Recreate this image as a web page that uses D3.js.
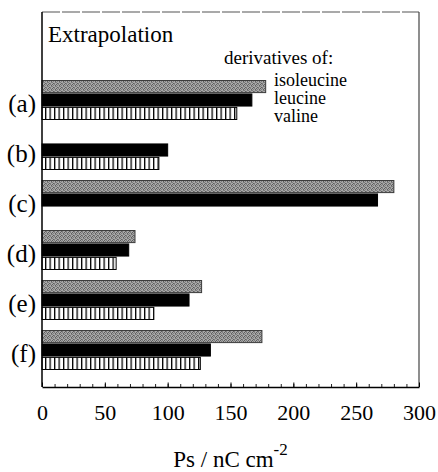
<!DOCTYPE html>
<html>
<head>
<meta charset="utf-8">
<script src="https://cdn.jsdelivr.net/npm/d3@7"></script>
<style>
    html, body { margin: 0; padding: 0; background: #fff; }
    #chart { width: 438px; height: 472px; }
    text { font-family: "Liberation Serif", "Times New Roman", serif; fill: #000; }
</style>
</head>
<body>
<div id="chart"></div>
<script>
// chart values
const categories = ['(a)', '(b)', '(c)', '(d)', '(e)', '(f)'];
const seriesNames = ['isoleucine', 'leucine', 'valine'];
const isoleucine = [178, null, 280, 74, 127, 175];
const leucine = [167, 100, 267, 69, 117, 134];
const valine = [155, 93, null, 59, 89, 126];
const majorTicks = [0, 50, 100, 150, 200, 250, 300];
const minorTicks = d3.range(0, 301, 10);

class GroupedBars {
    constructor(containerId) {
        this.containerId = containerId;
        this.width = 438;
        this.height = 472;
        this.plot = { left: 42, right: 419, top: 12, bottom: 387 };
    }

    initialize() {
        this.svg = d3.select(`#${this.containerId}`)
            .append('svg')
            .attr('width', this.width)
            .attr('height', this.height);

        this.x = d3.scaleLinear()
            .domain([0, 300])
            .range([this.plot.left, this.plot.right]);

        // one band per compound, 50px each
        this.y = d3.scaleBand()
            .domain(categories)
            .range([75, 375])
            .paddingInner(0);

        this.yInner = d3.scaleBand()
            .domain(seriesNames)
            .range([5.5, 44.5])
            .paddingInner(0.1);

        this.addPatterns();
    }

    addPatterns() {
        const defs = this.svg.append('defs');

        // grey speckle for isoleucine (4x4 tile, uneven dots)
        const speckle = defs.append('pattern')
            .attr('id', 'speckle')
            .attr('patternUnits', 'userSpaceOnUse')
            .attr('width', 4)
            .attr('height', 4);
        speckle.append('rect').attr('width', 4).attr('height', 4).attr('fill', '#a8a8a8');
        const dots = [[0, 0], [2, 0], [1, 1], [3, 1], [0, 2], [3, 2], [1, 3], [2, 3]];
        speckle.selectAll('.dot')
            .data(dots)
            .enter()
            .append('rect')
            .attr('class', 'dot')
            .attr('x', d => d[0])
            .attr('y', d => d[1])
            .attr('width', 1)
            .attr('height', 1)
            .attr('fill', (d, i) => i % 3 === 0 ? '#5e5e5e' : '#7c7c7c');

        // vertical hatching for valine
        const stripes = defs.append('pattern')
            .attr('id', 'stripes')
            .attr('patternUnits', 'userSpaceOnUse')
            .attr('width', 4.5)
            .attr('height', 10);
        stripes.append('rect').attr('width', 4.5).attr('height', 10).attr('fill', '#fff');
        stripes.append('rect').attr('x', 0).attr('width', 1.3).attr('height', 10).attr('fill', '#000');
    }

    draw() {
        const fills = { isoleucine: 'url(#speckle)', leucine: '#000', valine: 'url(#stripes)' };
        const strokes = { isoleucine: '#3c3c3c', leucine: '#000', valine: '#000' };
        const values = { isoleucine, leucine, valine };

        // bars
        const rows = [];
        seriesNames.forEach(s => {
            values[s].forEach((v, i) => {
                if (v !== null) rows.push({ series: s, cat: categories[i], value: v });
            });
        });

        this.svg.append('g')
            .attr('class', 'bars')
            .selectAll('rect')
            .data(rows)
            .enter()
            .append('rect')
            .attr('x', this.x(0))
            .attr('y', d => this.y(d.cat) + this.yInner(d.series))
            .attr('width', d => this.x(d.value) - this.x(0))
            .attr('height', this.yInner.bandwidth())
            .attr('fill', d => fills[d.series])
            .attr('stroke', d => strokes[d.series])
            .attr('stroke-width', 1);

        // frame
        const p = this.plot;
        this.svg.append('line')
            .attr('x1', p.left).attr('x2', p.right)
            .attr('y1', p.top).attr('y2', p.top)
            .attr('stroke', '#555').attr('stroke-width', 1.2)
            .attr('stroke-dasharray', '18 2');
        this.svg.append('line')
            .attr('x1', p.right).attr('x2', p.right)
            .attr('y1', p.top).attr('y2', p.bottom)
            .attr('stroke', '#444').attr('stroke-width', 1.2);
        this.svg.append('line')
            .attr('x1', p.left).attr('x2', p.left)
            .attr('y1', p.top).attr('y2', p.bottom)
            .attr('stroke', '#000').attr('stroke-width', 1.5);

        // x axis: minor ticks every 10, labels every 50
        const minorAxis = d3.axisBottom(this.x)
            .tickValues(minorTicks)
            .tickSize(-3)
            .tickFormat('');
        this.svg.append('g')
            .attr('transform', `translate(0,${p.bottom})`)
            .call(minorAxis)
            .call(g => g.select('.domain').remove())
            .call(g => g.selectAll('line').attr('stroke', '#222'));

        const majorAxis = d3.axisBottom(this.x)
            .tickValues(majorTicks)
            .tickSize(-4.5)
            .tickSizeOuter(0)
            .tickPadding(17);
        const gx = this.svg.append('g')
            .attr('transform', `translate(0,${p.bottom})`)
            .call(majorAxis);
        gx.select('.domain').attr('stroke', '#000').attr('stroke-width', 1.5);
        gx.selectAll('line').attr('stroke', '#000');
        gx.selectAll('text')
            .attr('font-size', 22)
            .style('font-family', '"Liberation Serif", "Times New Roman", serif')
            .attr('fill', '#000');

        // category labels
        this.svg.append('g')
            .selectAll('text')
            .data(categories)
            .enter()
            .append('text')
            .attr('x', 36)
            .attr('y', d => this.y(d) + this.y.bandwidth() / 2 + 3)
            .attr('dy', '0.35em')
            .attr('text-anchor', 'end')
            .attr('font-size', 25)
            .text(d => d);

        // axis title with superscript
        const title = this.svg.append('text')
            .attr('x', (p.left + p.right) / 2)
            .attr('y', 467)
            .attr('text-anchor', 'middle')
            .attr('font-size', 23);
        title.append('tspan').text('Ps / nC cm');
        title.append('tspan')
            .attr('font-size', 17)
            .attr('dy', -12)
            .text('-2');

        // panel title and legend text
        this.svg.append('text')
            .attr('x', 48).attr('y', 42)
            .attr('font-size', 23)
            .text('Extrapolation');

        this.svg.append('text')
            .attr('x', 224).attr('y', 64)
            .attr('font-size', 19)
            .text('derivatives of:');

        this.svg.append('g')
            .selectAll('text')
            .data(seriesNames)
            .enter()
            .append('text')
            .attr('x', 274)
            .attr('y', (d, i) => 86 + i * 18)
            .attr('font-size', 18)
            .text(d => d);
    }
}

const chart = new GroupedBars('chart');
chart.initialize();
chart.draw();
</script>
</body>
</html>
